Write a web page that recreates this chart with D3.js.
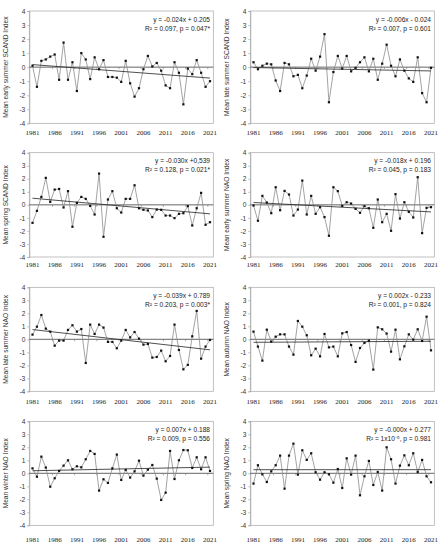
<!DOCTYPE html>
<html>
<head>
<meta charset="utf-8">
<script src="https://cdn.jsdelivr.net/npm/d3@7"></script>
<style>
  html, body { margin: 0; padding: 0; background: #fff; }
  svg { display: block; }
</style>
</head>
<body>
<svg id="chart" width="443" height="550"></svg>
<script>
const years = d3.range(1981, 2022)
const yearTicks = [1981, 1986, 1991, 1996, 2001, 2006, 2011, 2016, 2021]
const yTicks = [-4, -3, -2, -1, 0, 1, 2, 3, 4]

const earlySummerScand = [0.1, -1.4, 0.45, 0.55, 0.75, 0.9, -0.9, 1.75, -0.9, 0.35, -1.7, 1.0, 0.55, -0.85, 0.7, -0.15, 0.5, -0.7, -0.7, -0.75, -1.05, 0.45, -1.15, -2.1, -1.5, -0.15, 0.8, 0.05, 0.3, -0.25, -1.3, -1.5, 0.35, -0.4, -2.65, -0.1, -0.5, 0.5, -0.4, -1.4, -1.0]
const lateSummerScand = [0.35, -0.15, 0.1, 0.25, 0.2, -0.95, -1.7, 0.3, 0.2, -0.65, -0.55, -1.5, -0.6, 0.6, -0.25, 0.75, 2.35, -2.5, -0.35, 0.8, -0.1, 0.8, -0.3, -0.05, 0.35, 0.7, -0.3, 0.6, -0.9, 0.25, 1.6, 0.1, -0.65, 0.55, -0.25, -0.8, -1.05, 0.7, -1.85, -2.5, -0.05]
const springScand = [-1.38, -0.46, 0.61, 2.07, 0.23, 1.17, 1.22, -0.2, 1.05, -1.68, 0.15, 0.61, 0.46, -0.08, -0.74, 2.4, -2.45, 0.41, 1.05, -0.26, -0.59, 0.46, 0.46, 1.5, -0.26, -0.38, -0.43, -0.94, -0.36, -0.38, -0.82, -0.82, -1.02, -0.69, -0.64, -0.1, -1.58, -0.26, 0.92, -1.53, -1.33]
const earlySummerNao = [-0.05, -1.22, 0.69, 0.18, -0.64, 1.35, -0.41, 1.07, 0.79, -0.82, -0.36, 1.86, -0.74, 0.69, -0.69, -0.18, -0.94, -2.37, 1.35, 1.05, -0.08, 0.2, 0.1, -0.31, -0.61, -0.1, -0.26, -1.76, 0.41, -1.33, -0.69, -1.99, 0.82, -1.05, 0.2, -0.54, -0.97, 2.12, -2.17, -0.23, -0.18]
const lateSummerNao = [0.36, 0.97, 1.87, 0.82, 0.59, -0.49, -0.1, -0.1, 0.72, 1.08, 0.59, 0.79, -1.82, 1.13, 0.41, 1.13, 0.9, -0.2, -0.2, -0.69, -0.1, 0.72, 0.15, 0.56, 0.05, -0.41, -0.36, -1.41, -1.36, -0.87, -1.69, -1.28, 1.13, -0.82, -2.31, -1.97, 0.23, 2.18, -1.49, -0.56, -0.05]
const autumnNao = [0.59, -0.56, -1.64, 0.74, -0.18, 0.2, 0.38, 0.38, -0.56, -1.18, 1.41, 0.97, 0.31, -1.23, -0.72, -1.31, 0.41, -0.62, -0.56, -1.31, 0.46, 0.56, -0.44, -1.74, -0.67, -0.28, -0.1, -2.33, 0.92, 0.77, 0.44, -0.95, 0.74, -1.54, -0.54, 0.38, -0.03, 0.77, -0.13, 1.74, -0.85]
const winterNao = [0.38, -0.26, 1.28, 0.44, -1.03, -0.38, 0.18, 0.59, 1.0, 0.31, 0.54, 0.46, 1.08, 1.72, 1.49, -1.33, -0.46, -0.74, 0.38, 1.44, -0.51, 0.26, -0.33, 0.15, 0.97, -0.18, 0.28, 0.64, -0.41, -2.05, -1.49, 1.72, -0.44, 1.0, 1.79, 1.77, 0.41, 1.23, 0.31, 1.23, 0.18]
const springNao = [-0.79, 0.62, -0.08, -0.67, 0.15, 0.62, 1.36, -1.18, 1.36, 2.28, -0.1, 1.77, 1.03, 1.54, 0.08, -0.49, 0.08, -0.08, -0.72, 0.33, -1.13, 1.15, -0.1, 1.36, -1.69, -0.23, 0.95, -0.9, 0.1, -1.33, 2.0, 1.08, -0.79, 0.59, 1.38, 0.62, 1.54, 0.1, 1.03, -0.23, -0.69]

const seriesList = [earlySummerScand, lateSummerScand, springScand, earlySummerNao, lateSummerNao, autumnNao, winterNao, springNao]
const titles = [
  "Mean early summer SCAND Index", "Mean late summer SCAND Index",
  "Mean spring SCAND Index", "Mean early summer NAO Index",
  "Mean late summer NAO Index", "Mean autumn NAO Index",
  "Mean winter NAO Index", "Mean spring NAO Index"
]
const slopes = [-0.024, -0.006, -0.030, -0.018, -0.039, 0.002, 0.007, -0.000]
const intercepts = [0.205, -0.024, 0.539, 0.196, 0.789, -0.233, 0.188, 0.277]
const equations = [
  "y = -0.024x + 0.205", "y = -0.006x - 0.024",
  "y = -0.030x +0,539", "y = -0.018x + 0.196",
  "y = -0.039x + 0.789", "y = 0.002x - 0.233",
  "y = 0.007x + 0.188", "y = -0.000x + 0.277"
]
const stats = [
  "R² = 0.097, p = 0.047*", "R² = 0.007, p = 0.601",
  "R² = 0.128, p = 0.021*", "R² = 0.045, p = 0.183",
  "R² = 0.203, p = 0.003*", "R² = 0.001, p = 0.824",
  "R² = 0.009, p =  0.556", "R² = 1x10⁻⁵, p = 0.981"
]

const svg = d3.select("#chart")
const sansFont = "'Liberation Sans', Arial, sans-serif"
const serifFont = "'Liberation Serif', 'DejaVu Serif', serif"

// plot frame of each row: top (value 4), bottom (value -4), year label line
const rows = [
  { top: 11, bottom: 123.3, labelY: 134.5 },
  { top: 152.7, bottom: 257, labelY: 266.5 },
  { top: 287.3, bottom: 391.3, labelY: 403.5 },
  { top: 421.3, bottom: 525.3, labelY: 541.5 }
]
const colOffset = [0, 221]

const drawPanel = (i) => {
  const row = rows[Math.floor(i / 2)]
  const dx = colOffset[i % 2]
  const data = seriesList[i]
  const frame = { left: 29.3 + dx, right: 213.3 + dx }

  const x = d3.scaleLinear().domain([1981, 2021]).range([32.5 + dx, 210 + dx])
  const y = d3.scaleLinear().domain([-4, 4]).range([row.bottom, row.top])

  const g = svg.append("g")

  g.append("rect")
    .attr("x", frame.left).attr("y", row.top)
    .attr("width", frame.right - frame.left).attr("height", row.bottom - row.top)
    .attr("fill", "none").attr("stroke", "#a6a6a6").attr("stroke-width", 0.7)

  // y axis
  const yAxis = g.append("g")
    .attr("transform", `translate(${frame.left},0)`)
    .call(d3.axisLeft(y).tickValues(yTicks).tickSize(2).tickPadding(2).tickFormat(d => String(d)))
  yAxis.select(".domain").attr("stroke", "#a6a6a6").attr("stroke-width", 0.7)
  yAxis.selectAll(".tick line").attr("stroke", "#a6a6a6").attr("stroke-width", 0.7)
  yAxis.selectAll(".tick text")
    .attr("font-family", sansFont).attr("font-size", 6.6).attr("fill", "#333")

  // year labels
  g.selectAll(".yr").data(yearTicks).enter().append("text")
    .attr("x", d => x(d)).attr("y", row.labelY)
    .attr("text-anchor", "middle")
    .attr("font-family", serifFont).attr("font-size", 7).attr("fill", "#222")
    .text(d => d)

  // zero line and its small ticks between categories
  g.append("line")
    .attr("x1", frame.left).attr("x2", frame.right)
    .attr("y1", y(0)).attr("y2", y(0))
    .attr("stroke", "#555").attr("stroke-width", 0.9)
  const step = x(1982) - x(1981)
  g.selectAll(".zt").data(yearTicks.slice(1)).enter().append("line")
    .attr("x1", d => x(d) - step / 2).attr("x2", d => x(d) - step / 2)
    .attr("y1", y(0)).attr("y2", y(0) + 2)
    .attr("stroke", "#777").attr("stroke-width", 0.6)

  // series
  const pts = years.map((yr, k) => ({ yr, v: data[k] }))
  g.append("path")
    .datum(pts)
    .attr("d", d3.line().x(d => x(d.yr)).y(d => y(d.v)))
    .attr("fill", "none").attr("stroke", "#8c8c8c").attr("stroke-width", 0.8)

  // trend line from regression coefficients (x = 1..41)
  const trend = [1, years.length].map(n => ({ yr: years[n - 1], v: slopes[i] * n + intercepts[i] }))
  g.append("path")
    .datum(trend)
    .attr("d", d3.line().x(d => x(d.yr)).y(d => y(d.v)))
    .attr("fill", "none").attr("stroke", "#222").attr("stroke-width", 0.8)

  g.selectAll(".pt").data(pts).enter().append("rect")
    .attr("x", d => x(d.yr) - 1.1).attr("y", d => y(d.v) - 1.1)
    .attr("width", 2.2).attr("height", 2.2)
    .attr("fill", "#111")

  // equation
  g.append("text")
    .attr("x", 210 + dx).attr("y", row.top + 10.5)
    .attr("text-anchor", "end")
    .attr("font-family", sansFont).attr("font-size", 6.6).attr("fill", "#222")
    .text(equations[i])
  g.append("text")
    .attr("x", 210 + dx).attr("y", row.top + 19.5)
    .attr("text-anchor", "end")
    .attr("font-family", sansFont).attr("font-size", 6.6).attr("fill", "#222")
    .text(stats[i])

  // y title
  const cy = (row.top + row.bottom) / 2
  g.append("text")
    .attr("transform", `translate(${8 + dx},${cy}) rotate(-90)`)
    .attr("text-anchor", "middle")
    .attr("font-family", sansFont).attr("font-size", 6.6).attr("fill", "#333")
    .text(titles[i])
}

seriesList.forEach((s, i) => drawPanel(i))
</script>
</body>
</html>
